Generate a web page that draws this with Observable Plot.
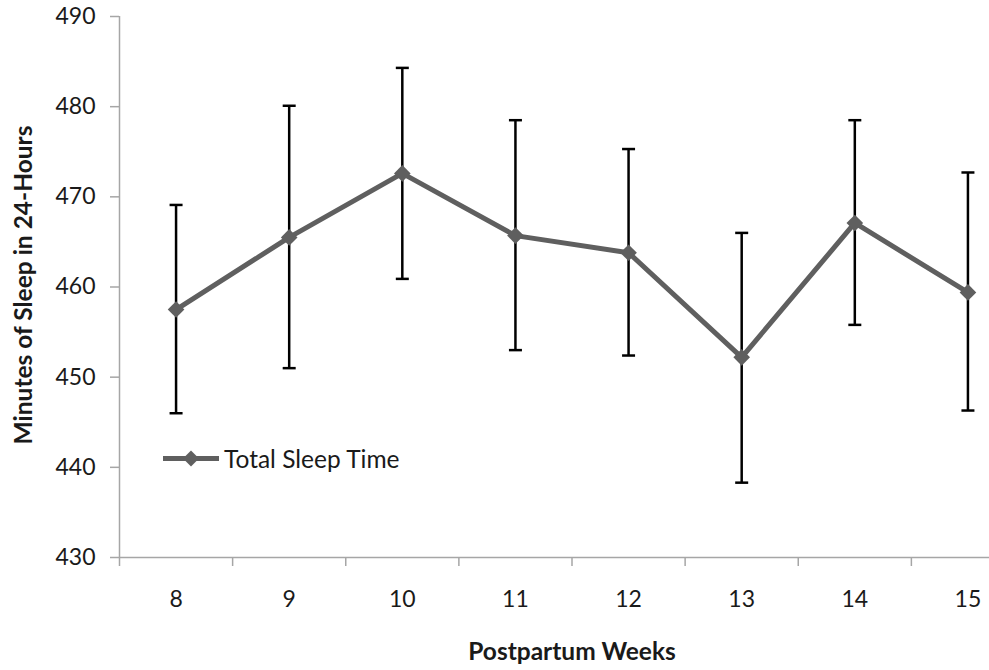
<!DOCTYPE html>
<html>
<head>
<meta charset="utf-8">
<script src="https://cdn.jsdelivr.net/npm/d3@7"></script>
<script src="https://cdn.jsdelivr.net/npm/@observablehq/plot@0.6"></script>
<style>
  html, body { margin: 0; padding: 0; background: white; overflow: hidden; }
  #wrap { position: relative; width: 989px; height: 670px; overflow: hidden; font-family: Lato, sans-serif; color: #1a1a1a; }
  .title { position: absolute; font-weight: bold; font-size: 24.5px; white-space: nowrap; }
  #ytitle { left: 22px; top: 285px; transform: translate(-50%, -50%) rotate(-90deg); }
  #xtitle { left: 572px; top: 650px; transform: translate(-50%, -50%); }
  #legend { position: absolute; left: 163px; top: 458px; transform: translateY(-50%); display: flex; align-items: center; font-size: 24.5px; white-space: nowrap; }
  #legend svg { margin-right: 5px; }
</style>
</head>
<body>
<div id="wrap"></div>
<script>
const weeks = [8, 9, 10, 11, 12, 13, 14, 15];
const meanSleep = [457.5, 465.5, 472.6, 465.7, 463.8, 452.2, 467.1, 459.4];
const upperSleep = [469.1, 480.1, 484.3, 478.5, 475.3, 466.0, 478.5, 472.7];
const lowerSleep = [446.0, 451.0, 460.9, 453.0, 452.4, 438.3, 455.8, 446.3];
const yTicks = [430, 440, 450, 460, 470, 480, 490];
const seriesName = "Total Sleep Time";
const xTitle = "Postpartum Weeks";
const yTitle = "Minutes of Sleep in 24-Hours";

const data = weeks.map((w, i) => ({week: w, mean: meanSleep[i], hi: upperSleep[i], lo: lowerSleep[i]}));
const boundaries = weeks.map(w => w - 0.5).concat([weeks[weeks.length - 1] + 0.5]);

const axisGray = "#a6a6a6";
const lineGray = "#5f5f5f";

const capSymbol = {
  draw(context) {
    context.moveTo(-6.5, 0);
    context.lineTo(6.5, 0);
  }
};

const chart = Plot.plot({
  width: 989,
  height: 670,
  marginLeft: 119,
  marginRight: 0,
  marginTop: 16,
  marginBottom: 113,
  style: {fontFamily: "Lato, sans-serif", fontSize: "23px", color: "#1a1a1a", background: "white", overflow: "hidden"},
  x: {type: "linear", domain: [7.5, 15.5], range: [119, 1024]},
  y: {domain: [430, 490], range: [557, 16]},
  marks: [
    Plot.axisY({ticks: yTicks, tickSize: 9, tickPadding: 15, stroke: axisGray, strokeWidth: 1.5, label: null, fontSize: 23}),
    Plot.axisX({ticks: weeks, tickSize: 0, tickPadding: 33, label: null, fontSize: 23, tickFormat: d => String(d)}),
    Plot.axisX({ticks: boundaries, tickSize: 9, stroke: axisGray, strokeWidth: 1.5, label: null, tickFormat: () => ""}),
    Plot.ruleY([430], {stroke: axisGray, strokeWidth: 1.5}),
    Plot.ruleX([7.5], {stroke: axisGray, strokeWidth: 1.5}),
    Plot.ruleX(data, {x: "week", y1: "lo", y2: "hi", stroke: "#000", strokeWidth: 2.5}),
    Plot.dot(data, {x: "week", y: "hi", symbol: capSymbol, fill: "none", stroke: "#000", strokeWidth: 2.5}),
    Plot.dot(data, {x: "week", y: "lo", symbol: capSymbol, fill: "none", stroke: "#000", strokeWidth: 2.5}),
    Plot.line(data, {x: "week", y: "mean", stroke: lineGray, strokeWidth: 5}),
    Plot.dot(data, {x: "week", y: "mean", symbol: "diamond2", r: 7.5, fill: lineGray, stroke: "none"})
  ]
});

const wrap = document.getElementById("wrap");
wrap.appendChild(chart);

const yt = document.createElement("div");
yt.className = "title"; yt.id = "ytitle"; yt.textContent = yTitle;
wrap.appendChild(yt);

const xt = document.createElement("div");
xt.className = "title"; xt.id = "xtitle"; xt.textContent = xTitle;
wrap.appendChild(xt);

const lg = document.createElement("div");
lg.id = "legend";
lg.innerHTML = `<svg width="56" height="20" viewBox="0 0 56 20"><line x1="0" y1="10" x2="56" y2="10" stroke="${lineGray}" stroke-width="5"/><path d="M28,2 L36,10 L28,18 L20,10 Z" fill="${lineGray}"/></svg><span></span>`;
lg.querySelector("span").textContent = seriesName;
wrap.appendChild(lg);
</script>
</body>
</html>
